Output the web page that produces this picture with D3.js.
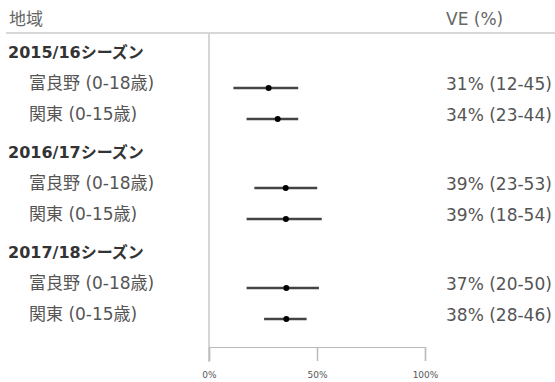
<!DOCTYPE html>
<html><head><meta charset="utf-8">
<script src="https://cdn.jsdelivr.net/npm/d3@7"></script>
<style>html,body{margin:0;padding:0;background:#fff;}svg{display:block;}</style>
</head><body><svg id="c" width="555" height="382"></svg>
<script>
const seasons = ["2015/16シーズン", "2016/17シーズン", "2017/18シーズン"];
const regions = ["富良野 (0-18歳)", "関東 (0-15歳)"];
// drawn estimates, one per season x region
const estimate = [27.6, 31.8, 35.5, 35.6, 35.8, 35.8];
const lower    = [11.3, 17.4, 21.0, 17.4, 17.4, 25.5];
const upper    = [41.3, 41.3, 50.1, 52.2, 50.9, 45.2];
const veLabels = ["31% (12-45)", "34% (23-44)", "39% (23-53)", "39% (18-54)", "37% (20-50)", "38% (28-46)"];
const xTicks = [0, 50, 100];

const svg = d3.select("#c");
const FONT = "'DejaVu Sans', 'Noto Sans CJK JP', sans-serif";

const x = d3.scaleLinear().domain([0, 100]).range([209, 425]);
const yGroup = d3.scalePoint().domain(seasons).range([52, 252]);
const yRow = d3.scalePoint().domain(["header"].concat(regions)).range([0, 62]);

const rows = [];
seasons.forEach((s, i) => regions.forEach((r, j) => {
  const k = i * regions.length + j;
  rows.push({season: s, region: r, est: estimate[k], lo: lower[k], hi: upper[k], label: veLabels[k]});
}));
const yText = d => yGroup(d.season) + yRow(d.region);

// header
svg.append("text").attr("x", 9).attr("y", 19).attr("dy", "0.35em")
  .attr("font-family", FONT).attr("font-size", 17).attr("fill", "#666").text("地域");
svg.append("text").attr("x", 446).attr("y", 19).attr("dy", "0.35em")
  .attr("font-family", FONT).attr("font-size", 17).attr("fill", "#666").text("VE (%)");
svg.append("line").attr("x1", 6).attr("x2", 555).attr("y1", 33).attr("y2", 33)
  .attr("stroke", "#b0b0b0").attr("stroke-width", 1.2);

// zero line
svg.append("line").attr("x1", x(0)).attr("x2", x(0)).attr("y1", 34).attr("y2", 362)
  .attr("stroke", "#c8c8c8").attr("stroke-width", 1.5);

// x axis
const axis = d3.axisBottom(x).tickValues(xTicks).tickFormat(d => d + "%").tickSize(14);
const gAx = svg.append("g").attr("transform", "translate(0,347)").call(axis);
gAx.select(".domain").attr("stroke", "#bbb").attr("stroke-width", 1.2);
gAx.selectAll(".tick line").attr("stroke", "#bbb").attr("stroke-width", 1.5);
gAx.selectAll(".tick text").attr("fill", "#555").attr("font-size", 9)
  .attr("font-family", "'DejaVu Sans', sans-serif").attr("y", 25);

// season headers
svg.selectAll("text.season").data(seasons).join("text").attr("class", "season")
  .attr("x", 8).attr("y", d => yGroup(d)).attr("dy", "0.35em")
  .attr("font-family", FONT).attr("font-size", 16).attr("font-weight", "bold").attr("fill", "#333")
  .text(d => d);

// region labels
svg.selectAll("text.region").data(rows).join("text").attr("class", "region")
  .attr("x", 29).attr("y", yText).attr("dy", "0.35em")
  .attr("font-family", FONT).attr("font-size", 17).attr("fill", "#555")
  .text(d => d.region);

// VE labels
svg.selectAll("text.ve").data(rows).join("text").attr("class", "ve")
  .attr("x", 446).attr("y", d => yText(d) + 1).attr("dy", "0.35em")
  .attr("font-family", FONT).attr("font-size", 17).attr("fill", "#555")
  .text(d => d.label);

// CI lines and points
const yMark = d => yText(d) + 5;
svg.selectAll("line.ci").data(rows).join("line").attr("class", "ci")
  .attr("x1", d => x(d.lo)).attr("x2", d => x(d.hi))
  .attr("y1", yMark).attr("y2", yMark)
  .attr("stroke", "#444").attr("stroke-width", 2.5);
svg.selectAll("circle.pt").data(rows).join("circle").attr("class", "pt")
  .attr("cx", d => x(d.est)).attr("cy", yMark).attr("r", 3).attr("fill", "#000");
</script></body></html>
